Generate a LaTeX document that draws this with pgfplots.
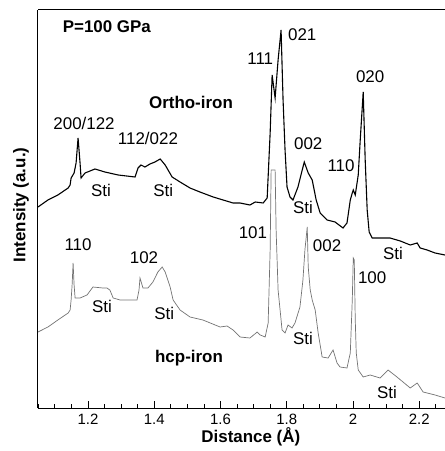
\documentclass[border=0pt]{standalone}
\usepackage{pgfplots}
\pgfplotsset{compat=1.18}
\usepackage{fontspec}
\setmainfont{Liberation Sans}
\begin{document}
\begin{tikzpicture}
\begin{axis}[
 name=ax,
 scale only axis, width=407bp, height=398bp,
 xmin=1.049, xmax=2.278, ymin=0, ymax=398,
 axis x line*=bottom, axis y line*=left,
 axis line style={line width=1bp},
 xtick={1.2,1.4,1.6,1.8,2,2.2},
 xticklabels={1.2,1.4,1.6,1.8,2,2.2},
 minor xtick={1.05,1.1,1.15,1.25,1.3,1.35,1.45,1.5,1.55,1.65,1.7,1.75,1.85,1.9,1.95,2.05,2.1,2.15,2.25},
 ytick=\empty,
 tick align=inside,
 major tick length=7bp, minor tick length=4bp,
 every tick/.style={black, line width=0.8bp},
 tick label style={font=\fontsize{15}{17}\selectfont},
 xticklabel style={yshift=-3bp},
 /pgf/number format/assume math mode=true,
 xlabel={\bfseries Distance (Å)},
 ylabel={\bfseries Intensity (a.u.)},
 label style={font=\fontsize{17}{20}\selectfont},
 xlabel style={at={(axis description cs:0.523,-0.073)}, anchor=center},
 ylabel style={at={(axis description cs:-0.042,0.51)}, anchor=center},
]
% Ortho-iron
\addplot[black, line width=1.1bp] coordinates {
(1.049,201) (1.079,208) (1.109,213) (1.140,220) (1.146,223) (1.149,230) (1.158,235) (1.164,245)
(1.170,270) (1.176,245) (1.179,230) (1.191,235) (1.221,239) (1.251,236) (1.291,233) (1.342,231)
(1.351,240) (1.360,243) (1.372,241) (1.387,244) (1.402,246) (1.418,249) (1.433,243) (1.454,231)
(1.478,226) (1.508,220) (1.538,216) (1.578,211) (1.608,208) (1.638,205) (1.659,205) (1.689,203)
(1.705,206) (1.729,205) (1.741,210) (1.750,275) (1.756,333) (1.765,310) (1.774,348) (1.783,378)
(1.789,308) (1.795,258) (1.801,221) (1.810,211) (1.819,208) (1.834,221) (1.853,246) (1.865,235)
(1.877,228) (1.889,208) (1.901,195) (1.922,188) (1.946,186) (1.970,180) (1.982,185) (1.992,208)
(1.998,215) (2.001,218) (2.007,213) (2.016,233) (2.022,268) (2.031,316) (2.037,248) (2.043,198)
(2.049,176) (2.058,170) (2.082,170) (2.112,170) (2.143,167) (2.173,163) (2.194,165) (2.203,160)
(2.224,158) (2.248,155) (2.278,153)
};
% hcp-iron
\addplot[black!55, line width=0.7bp] coordinates {
(1.049,76) (1.079,81) (1.109,88) (1.140,95) (1.146,98) (1.149,108) (1.152,123) (1.155,145)
(1.158,123) (1.161,110) (1.176,110) (1.197,113) (1.215,121) (1.245,120) (1.257,120) (1.266,118)
(1.276,110) (1.297,108) (1.348,108) (1.354,118) (1.357,130) (1.366,120) (1.381,120) (1.396,126)
(1.411,136) (1.424,141) (1.433,136) (1.439,130) (1.448,121) (1.457,108) (1.478,98) (1.508,91)
(1.547,88) (1.584,83) (1.599,81) (1.620,82) (1.638,78) (1.659,71) (1.689,70) (1.711,76)
(1.720,73) (1.735,71) (1.744,85) (1.750,158) (1.753,238) (1.765,238) (1.768,178) (1.774,118)
(1.786,78) (1.795,75) (1.804,83) (1.816,80) (1.825,85) (1.840,101) (1.849,128) (1.855,158)
(1.862,181) (1.865,141) (1.871,118) (1.877,108) (1.886,98) (1.895,75) (1.907,51) (1.925,50)
(1.940,58) (1.952,45) (1.961,41) (1.982,40) (1.992,55) (1.998,108) (2.001,150) (2.004,148)
(2.007,88) (2.010,55) (2.016,38) (2.031,31) (2.052,33) (2.082,30) (2.106,38) (2.133,31)
(2.173,20) (2.194,25) (2.212,16) (2.248,13) (2.278,10)
};
\begin{scope}[every node/.style={font=\fontsize{17}{20}\selectfont, inner sep=0pt}]
\node at (axis cs:1.257,381) {\bfseries P=100 GPa};
\node at (axis cs:1.511,306) {\bfseries Ortho-iron};
\node at (axis cs:1.505,50) {\bfseries hcp-iron};
\node at (axis cs:1.188,285) {200/122};
\node at (axis cs:1.381,270) {112/022};
\node at (axis cs:1.239,218) {Sti};
\node at (axis cs:1.427,218) {Sti};
\node at (axis cs:1.720,349) {111};
\node at (axis cs:1.847,373) {021};
\node at (axis cs:2.052,331) {020};
\node at (axis cs:1.865,264) {002};
\node at (axis cs:1.964,242) {110};
\node at (axis cs:1.849,201) {Sti};
\node at (axis cs:2.121,155) {Sti};
\node at (axis cs:1.170,163) {110};
\node at (axis cs:1.369,150) {102};
\node at (axis cs:1.242,102) {Sti};
\node at (axis cs:1.430,95) {Sti};
\node at (axis cs:1.698,175) {101};
\node at (axis cs:1.922,162) {002};
\node at (axis cs:2.058,130) {100};
\node at (axis cs:1.849,70) {Sti};
\node at (axis cs:2.103,16) {Sti};
\end{scope}
\end{axis}
\draw[line width=1bp] (ax.north west) -- (ax.north east);
\pgfresetboundingbox
\path ([shift={(-38bp,-43bp)}]ax.south west) rectangle ([shift={(0bp,10bp)}]ax.north east);
\end{tikzpicture}
\end{document}
